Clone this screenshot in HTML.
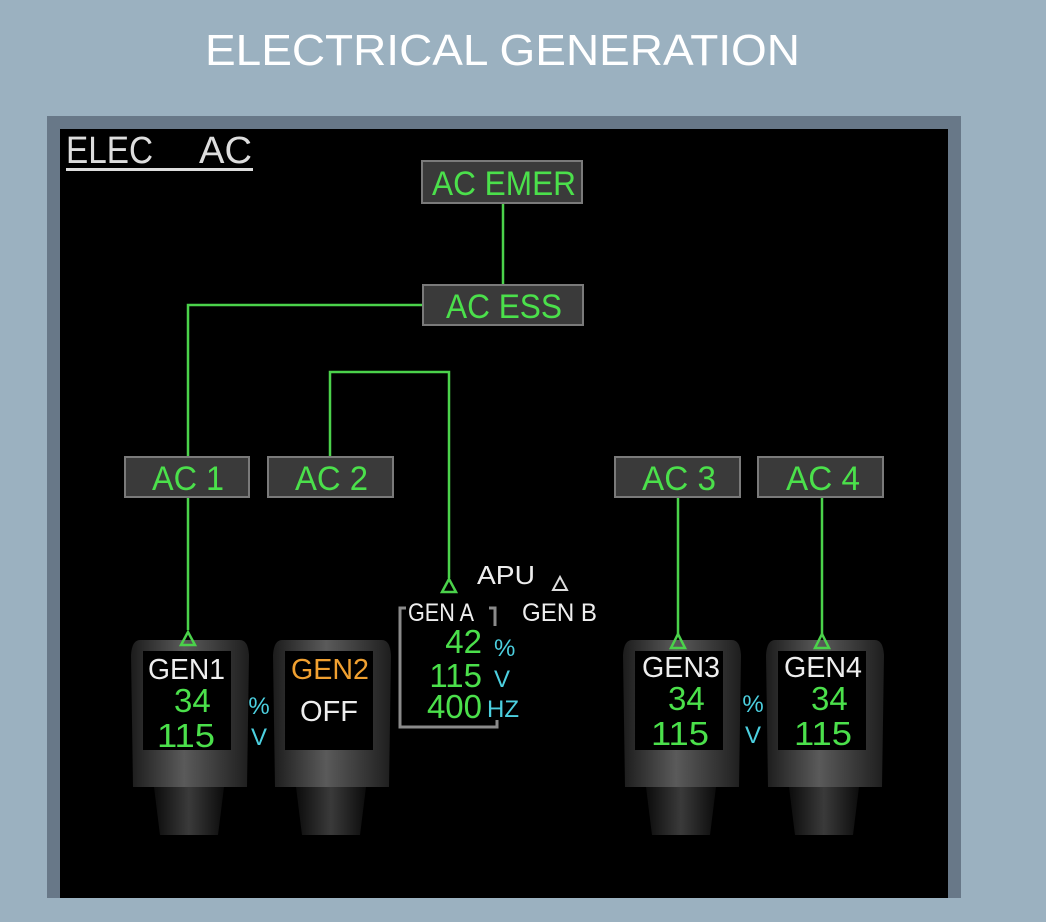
<!DOCTYPE html>
<html><head><meta charset="utf-8"><style>
html,body{margin:0;padding:0;background:#9bb1c0;}
svg{display:block}
text{font-family:"Liberation Sans",sans-serif}
</style></head><body>
<svg width="1046" height="922" viewBox="0 0 1046 922" xmlns="http://www.w3.org/2000/svg">
<defs>
<linearGradient id="bodyg" x1="0" x2="1" y1="0" y2="0">
<stop offset="0" stop-color="#1c1c1c"/><stop offset="0.45" stop-color="#5a5a5a"/><stop offset="1" stop-color="#1e1e1e"/>
</linearGradient>
<linearGradient id="neckg" x1="0" x2="1" y1="0" y2="0">
<stop offset="0" stop-color="#0c0c0c"/><stop offset="0.5" stop-color="#3a3a3a"/><stop offset="1" stop-color="#0c0c0c"/>
</linearGradient>
<g id="gen">
<path d="M24,147 L94,147 L88,195 L30,195 Z" fill="url(#neckg)"/>
<path d="M10,0 Q2,0 1,15 L3,147 L117,147 L119,15 Q118,0 110,0 Z" fill="url(#bodyg)"/>
<rect x="13" y="11" width="88" height="99" fill="#000"/>
</g>
</defs>
<rect width="1046" height="922" fill="#9bb1c0"/>
<text x="205" y="65" font-size="44" fill="#fff" textLength="595" lengthAdjust="spacingAndGlyphs">ELECTRICAL GENERATION</text>
<rect x="47" y="116" width="914" height="782" fill="#687888"/>
<rect x="60" y="129" width="888" height="769" fill="#000"/>
<text x="66" y="163" font-size="38" fill="#ddd" textLength="87" lengthAdjust="spacingAndGlyphs">ELEC</text>
<text x="199" y="163" font-size="38" fill="#ddd" textLength="53" lengthAdjust="spacingAndGlyphs">AC</text>
<rect x="66" y="168" width="187" height="3" fill="#ddd"/>
<g stroke="#4bd24b" stroke-width="2.5" fill="none">
<path d="M503,203 V285"/>
<path d="M423,305 H188 V457"/>
<path d="M188,497 V630"/>
<path d="M330,457 V372 H449 V578"/>
<path d="M678,497 V635"/>
<path d="M822,497 V635"/>
</g>
<g fill="#3a3a3a" stroke="#7a7a7a" stroke-width="2">
<rect x="422" y="161" width="160" height="42"/>
<rect x="423" y="285" width="160" height="40"/>
<rect x="125" y="457" width="124" height="40"/>
<rect x="268" y="457" width="125" height="40"/>
<rect x="615" y="457" width="125" height="40"/>
<rect x="758" y="457" width="125" height="40"/>
</g>
<g font-size="34" fill="#4be04b" lengthAdjust="spacingAndGlyphs">
<text x="432" y="195" textLength="144" lengthAdjust="spacingAndGlyphs">AC EMER</text>
<text x="446" y="318" textLength="116" lengthAdjust="spacingAndGlyphs">AC ESS</text>
<text x="152" y="490" textLength="72" lengthAdjust="spacingAndGlyphs">AC 1</text>
<text x="295" y="490" textLength="73" lengthAdjust="spacingAndGlyphs">AC 2</text>
<text x="642" y="490" textLength="74" lengthAdjust="spacingAndGlyphs">AC 3</text>
<text x="786" y="490" textLength="74" lengthAdjust="spacingAndGlyphs">AC 4</text>
</g>
<use href="#gen" x="130" y="640"/>
<use href="#gen" x="272" y="640"/>
<use href="#gen" x="622" y="640"/>
<use href="#gen" x="765" y="640"/>
<g fill="none" stroke="#4bd24b" stroke-width="2.5">
<path d="M188,632 L181,645 L195,645 Z"/>
<path d="M449,579 L442,592 L456,592 Z"/>
<path d="M678,634 L671,648 L685,648 Z"/>
<path d="M822,634 L815,648 L829,648 Z"/>
</g>
<path d="M560,577 L553,590 L567,590 Z" fill="none" stroke="#ddd" stroke-width="2"/>
<g font-size="29" lengthAdjust="spacingAndGlyphs">
<text x="148" y="679" fill="#eee" textLength="77" lengthAdjust="spacingAndGlyphs">GEN1</text>
<text x="174" y="712" fill="#4be04b" font-size="33">34</text>
<text x="157" y="747" fill="#4be04b" font-size="33" textLength="58" lengthAdjust="spacingAndGlyphs">115</text>
<text x="291" y="679" fill="#f0a030" textLength="78" lengthAdjust="spacingAndGlyphs">GEN2</text>
<text x="300" y="721" fill="#eee">OFF</text>
<text x="642" y="677" fill="#eee" textLength="78" lengthAdjust="spacingAndGlyphs">GEN3</text>
<text x="668" y="710" fill="#4be04b" font-size="33">34</text>
<text x="651" y="745" fill="#4be04b" font-size="33" textLength="58" lengthAdjust="spacingAndGlyphs">115</text>
<text x="784" y="677" fill="#eee" textLength="78" lengthAdjust="spacingAndGlyphs">GEN4</text>
<text x="811" y="710" fill="#4be04b" font-size="33">34</text>
<text x="794" y="745" fill="#4be04b" font-size="33" textLength="58" lengthAdjust="spacingAndGlyphs">115</text>
</g>
<g font-size="24" fill="#4cd0e0" text-anchor="middle">
<text x="259" y="714">%</text><text x="259" y="745">V</text>
<text x="753" y="712">%</text><text x="753" y="743">V</text>
</g>
<path d="M406,608 H400 V727 H497 V720 M489,608 H495 V626" fill="none" stroke="#8a8a8a" stroke-width="3"/>
<text x="408" y="621" font-size="25" fill="#eee" textLength="66" lengthAdjust="spacingAndGlyphs">GEN A</text>
<text x="522" y="621" font-size="25" fill="#eee" textLength="75" lengthAdjust="spacingAndGlyphs">GEN B</text>
<text x="477" y="584" font-size="26" fill="#eee" textLength="58" lengthAdjust="spacingAndGlyphs">APU</text>
<g font-size="33" fill="#4be04b" text-anchor="end">
<text x="482" y="653">42</text><text x="482" y="687">115</text><text x="482" y="718">400</text>
</g>
<g font-size="24" fill="#4cd0e0">
<text x="494" y="656">%</text><text x="494" y="687">V</text><text x="487" y="717">HZ</text>
</g>
</svg>
</body></html>
